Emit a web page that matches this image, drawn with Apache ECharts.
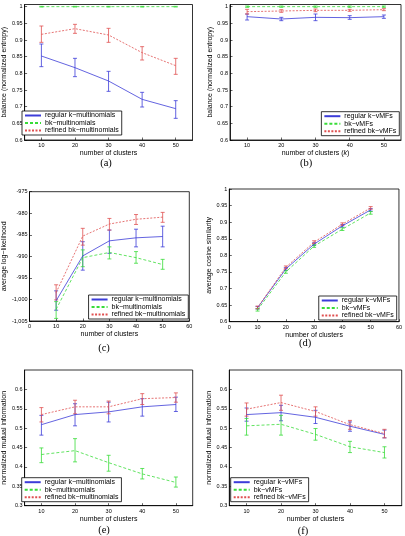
<!DOCTYPE html>
<html>
<head>
<meta charset="utf-8">
<script src="https://cdn.jsdelivr.net/npm/echarts@6/dist/echarts.min.js"></script>
<style>
  html, body { margin: 0; padding: 0; background: #fff; }
  #chart { width: 405px; height: 536px; }
</style>
</head>
<body>
<div id="chart"></div>
<script>
// categories / ticks
var clusters = [10, 20, 30, 40, 50];
var clusterTicks = [10, 20, 30, 40, 50];
var clusterTicksWide = [0, 10, 20, 30, 40, 50, 60];
var balanceTicks = [0.6, 0.65, 0.7, 0.75, 0.8, 0.85, 0.9, 0.95, 1];
var llTicks = [-1005, -1000, -995, -990, -985, -980, -975];
var cosTicks = [0.6, 0.65, 0.7, 0.75, 0.8, 0.85, 0.9, 0.95, 1];
var nmiTicks = [0.3, 0.35, 0.4, 0.45, 0.5, 0.55, 0.6];

// (a) balance, multinomials
var a_reg = [0.852, 0.817, 0.777, 0.722, 0.694];
var a_reg_err = [[0.82, 0.888], [0.79, 0.845], [0.746, 0.806], [0.699, 0.743], [0.665, 0.718]];
var a_bk = [1, 1, 1, 1, 1];
var a_bk_err = [[0.999, 1.001], [0.999, 1.001], [0.999, 1.001], [0.999, 1.001], [0.999, 1.001]];
var a_ref = [0.917, 0.934, 0.915, 0.862, 0.823];
var a_ref_err = [[0.893, 0.942], [0.92, 0.947], [0.893, 0.935], [0.84, 0.88], [0.797, 0.845]];

// (b) balance, vMFs
var b_reg = [0.970, 0.963, 0.968, 0.967, 0.970];
var b_reg_err = [[0.96, 0.978], [0.958, 0.968], [0.958, 0.978], [0.962, 0.973], [0.965, 0.975]];
var b_bk = [1, 1, 1, 1, 1];
var b_bk_err = [[0.998, 1.002], [0.998, 1.002], [0.998, 1.002], [0.998, 1.002], [0.998, 1.002]];
var b_ref = [0.985, 0.987, 0.989, 0.989, 0.991];
var b_ref_err = [[0.978, 0.992], [0.983, 0.991], [0.985, 0.993], [0.986, 0.992], [0.988, 0.994]];

// (c) log-likelihood, multinomials
var c_reg = [-1000.3, -989.9, -986.4, -985.7, -985.4];
var c_reg_err = [[-1002.5, -998.0], [-993.2, -986.6], [-989.3, -983.9], [-987.8, -983.7], [-987.8, -983.0]];
var c_bk = [-1002.3, -990.3, -989.1, -990.3, -991.9];
var c_bk_err = [[-1004.4, -1000.5], [-992.4, -988.5], [-990.6, -987.8], [-991.6, -988.9], [-993.0, -990.7]];
var c_ref = [-998.4, -985.3, -982.5, -981.4, -980.9];
var c_ref_err = [[-1000.1, -996.6], [-987.4, -983.5], [-983.9, -981.2], [-982.6, -980.3], [-982.1, -979.8]];

// (d) cosine similarity, vMFs
var d_reg = [0.642, 0.759, 0.834, 0.889, 0.937];
var d_reg_err = [[0.638, 0.646], [0.755, 0.763], [0.830, 0.838], [0.885, 0.893], [0.933, 0.941]];
var d_bk = [0.636, 0.750, 0.828, 0.879, 0.928];
var d_bk_err = [[0.632, 0.640], [0.746, 0.754], [0.824, 0.832], [0.875, 0.883], [0.924, 0.932]];
var d_ref = [0.643, 0.764, 0.840, 0.894, 0.943];
var d_ref_err = [[0.639, 0.647], [0.760, 0.768], [0.836, 0.844], [0.890, 0.898], [0.939, 0.947]];

// (e) NMI, multinomials
var e_reg = [0.509, 0.535, 0.542, 0.555, 0.561];
var e_reg_err = [[0.482, 0.533], [0.506, 0.563], [0.516, 0.567], [0.531, 0.576], [0.543, 0.58]];
var e_bk = [0.432, 0.442, 0.411, 0.382, 0.36];
var e_bk_err = [[0.411, 0.449], [0.413, 0.473], [0.389, 0.43], [0.369, 0.396], [0.348, 0.374]];
var e_ref = [0.535, 0.555, 0.555, 0.576, 0.579];
var e_ref_err = [[0.516, 0.553], [0.537, 0.572], [0.537, 0.57], [0.561, 0.589], [0.567, 0.591]];

// (f) NMI, vMFs
var f_reg = [0.535, 0.54, 0.528, 0.505, 0.484];
var f_reg_err = [[0.518, 0.552], [0.519, 0.559], [0.512, 0.546], [0.492, 0.516], [0.475, 0.495]];
var f_bk = [0.506, 0.51, 0.484, 0.452, 0.437];
var f_bk_err = [[0.482, 0.525], [0.482, 0.533], [0.469, 0.499], [0.437, 0.466], [0.423, 0.452]];
var f_ref = [0.549, 0.566, 0.543, 0.509, 0.486];
var f_ref_err = [[0.531, 0.565], [0.546, 0.585], [0.531, 0.555], [0.497, 0.52], [0.475, 0.497]];

var FONT = 'Liberation Sans';
var BLUE = '#3c3cd8', GREEN = '#38dc38', RED = '#e05050';

var chart = echarts.init(document.getElementById('chart'));

var grids = [
  { left: 21, top: 4.5, width: 171.5, height: 135.5 },
  { left: 230, top: 4.5, width: 171, height: 135.5 },
  { left: 25, top: 191.7, width: 164.3, height: 129.3 },
  { left: 229.3, top: 189, width: 170.7, height: 132.7 },
  { left: 20.7, top: 370, width: 172, height: 135.7 },
  { left: 229.3, top: 370, width: 172.4, height: 135.7 }
];
grids.forEach(function (g) {
  g.show = true; g.borderColor = '#000'; g.borderWidth = 0.8; g.backgroundColor = '#fff';
});

function xAx(i, min, max, ticks, name) {
  return {
    type: 'value', gridIndex: i, min: min, max: max,
    name: name, nameLocation: 'middle', nameGap: 8,
    nameTextStyle: { fontFamily: FONT, fontSize: 7, color: '#000', rich: { i: { fontFamily: FONT, fontSize: 7, fontStyle: 'italic', color: '#000' } } },
    axisLine: { lineStyle: { color: '#000', width: 0.8 } },
    axisTick: { inside: true, length: 2.5, customValues: ticks, lineStyle: { color: '#000', width: 0.6 } },
    axisLabel: { customValues: ticks, fontFamily: FONT, fontSize: 5.5, color: '#000', margin: 2.5 },
    splitLine: { show: false }
  };
}
function yAx(i, min, max, ticks, name, gap) {
  return {
    type: 'value', gridIndex: i, min: min, max: max,
    name: name, nameLocation: 'middle', nameGap: gap,
    nameTextStyle: { fontFamily: FONT, fontSize: 7, color: '#000' },
    axisLine: { lineStyle: { color: '#000', width: 0.8 } },
    axisTick: { inside: true, length: 2.5, customValues: ticks, lineStyle: { color: '#000', width: 0.6 } },
    axisLabel: { customValues: ticks, fontFamily: FONT, fontSize: 5.5, color: '#000', margin: 2 },
    splitLine: { show: false }
  };
}

var xAxes = [
  xAx(0, 5, 55, clusterTicks, 'number of clusters'),
  xAx(1, 5, 55, clusterTicks, 'number of clusters ({i|k})'),
  xAx(2, 0, 60, clusterTicksWide, 'number of clusters'),
  xAx(3, 0, 60, clusterTicksWide, 'number of clusters'),
  xAx(4, 5, 55, clusterTicks, 'number of clusters'),
  xAx(5, 5, 55, clusterTicks, 'number of clusters')
];
var yAxes = [
  yAx(0, 0.6, 1.0065, balanceTicks, 'balance (normalized entropy)', 14),
  yAx(1, 0.6, 1.0065, balanceTicks, 'balance (normalized entropy)', 14),
  yAx(2, -1005, -975, llTicks, 'average log\u2212likelihood', 18),
  yAx(3, 0.6, 1, cosTicks, 'average cosine similarity', 13),
  yAx(4, 0.3, 0.65, nmiTicks, 'normalized mutual information', 14),
  yAx(5, 0.3, 0.65, nmiTicks, 'normalized mutual information', 13)
];

function pairs(ys) {
  return clusters.map(function (x, k) { return [x, ys[k]]; });
}
function bars(errs) {
  return clusters.map(function (x, k) { return [x, errs[k][0], errs[k][1]]; });
}
function renderBar(params, api) {
  var x = api.value(0);
  var p1 = api.coord([x, api.value(1)]);
  var p2 = api.coord([x, api.value(2)]);
  var c = api.visual('color');
  var st = { stroke: c, lineWidth: 0.8 };
  return {
    type: 'group',
    children: [
      { type: 'line', shape: { x1: p1[0], y1: p1[1], x2: p2[0], y2: p2[1] }, style: st },
      { type: 'line', shape: { x1: p1[0] - 2, y1: p1[1], x2: p1[0] + 2, y2: p1[1] }, style: st },
      { type: 'line', shape: { x1: p2[0] - 2, y1: p2[1], x2: p2[0] + 2, y2: p2[1] }, style: st }
    ]
  };
}

var styles = {
  reg: { color: BLUE, type: 'solid' },
  bk: { color: GREEN, type: [3, 2] },
  ref: { color: RED, type: [2, 1.5] }
};

var series = [];
function addSeries(i, kind, name, ys, errs) {
  var s = styles[kind];
  series.push({
    type: 'custom', xAxisIndex: i, yAxisIndex: i, name: name + ' err',
    renderItem: renderBar, data: bars(errs), itemStyle: { color: s.color },
    encode: { x: 0, y: [1, 2] }, silent: true, z: 2
  });
  series.push({
    type: 'line', xAxisIndex: i, yAxisIndex: i, name: name,
    data: pairs(ys), symbol: 'none', color: s.color,
    itemStyle: { color: s.color },
    lineStyle: { color: s.color, width: 0.8, type: s.type }, silent: true, z: 3
  });
}

var mNames = ['regular k\u2212multinomials', 'bk\u2212multinomials', 'refined bk\u2212multinomials'];
var vNames = ['regular k\u2212vMFs', 'bk\u2212vMFs', 'refined bk\u2212vMFs'];

addSeries(0, 'reg', mNames[0], a_reg, a_reg_err);
addSeries(0, 'bk', mNames[1], a_bk, a_bk_err);
addSeries(0, 'ref', mNames[2], a_ref, a_ref_err);
addSeries(1, 'reg', vNames[0], b_reg, b_reg_err);
addSeries(1, 'bk', vNames[1], b_bk, b_bk_err);
addSeries(1, 'ref', vNames[2], b_ref, b_ref_err);
addSeries(2, 'reg', mNames[0], c_reg, c_reg_err);
addSeries(2, 'bk', mNames[1], c_bk, c_bk_err);
addSeries(2, 'ref', mNames[2], c_ref, c_ref_err);
addSeries(3, 'reg', vNames[0], d_reg, d_reg_err);
addSeries(3, 'bk', vNames[1], d_bk, d_bk_err);
addSeries(3, 'ref', vNames[2], d_ref, d_ref_err);
addSeries(4, 'reg', mNames[0], e_reg, e_reg_err);
addSeries(4, 'bk', mNames[1], e_bk, e_bk_err);
addSeries(4, 'ref', mNames[2], e_ref, e_ref_err);
addSeries(5, 'reg', vNames[0], f_reg, f_reg_err);
addSeries(5, 'bk', vNames[1], f_bk, f_bk_err);
addSeries(5, 'ref', vNames[2], f_ref, f_ref_err);

function leg(names, pos) {
  var l = {
    orient: 'vertical', data: names, selectedMode: false,
    itemWidth: 16, itemHeight: 8, itemGap: 0.5,
    padding: [1, 3, 1, 2],
    borderColor: '#000', borderWidth: 0.8, backgroundColor: '#fff',
    itemStyle: { opacity: 0 },
    textStyle: { fontFamily: FONT, fontSize: 7, color: '#000', padding: [0, 0, 0, -1] }
  };
  for (var k in pos) l[k] = pos[k];
  return l;
}

var legends = [
  leg(mNames, { left: 22, top: 111 }),
  leg(vNames, { right: 5.7, top: 111.7 }),
  leg(mNames, { right: 216.7, top: 295 }),
  leg(vNames, { right: 8.3, top: 296 }),
  leg(mNames, { left: 21.7, top: 477.7 }),
  leg(vNames, { left: 230.7, top: 477.7 })
];

var captions = [['(a)', 106, 163], ['(b)', 306, 163], ['(c)', 104, 348], ['(d)', 305, 343], ['(e)', 104, 530], ['(f)', 303, 531]];

chart.setOption({
  animation: false,
  backgroundColor: '#fff',
  grid: grids,
  xAxis: xAxes,
  yAxis: yAxes,
  legend: legends,
  series: series,
  graphic: captions.map(function (c) {
    return {
      type: 'text', x: c[1], y: c[2],
      style: { text: c[0], fontFamily: 'Liberation Serif', fontSize: 10.5, fill: '#000', align: 'center', verticalAlign: 'middle' }
    };
  })
});
</script>
</body>
</html>
